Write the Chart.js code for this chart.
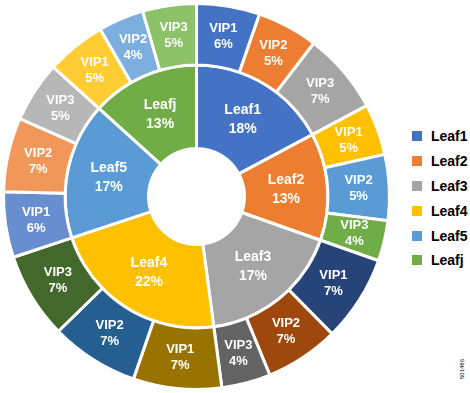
<!DOCTYPE html>
<html><head><meta charset="utf-8">
<script src="https://cdn.jsdelivr.net/npm/chart.js@4.4.1/dist/chart.umd.min.js"></script>
<style>
html,body{margin:0;padding:0;background:#fff;width:470px;height:393px;overflow:hidden;font-family:"Liberation Sans",Arial,sans-serif;}
#wrap{position:absolute;left:0;top:0;width:393px;height:393px;}
#legend{position:absolute;left:412px;top:124px;}
.item{display:flex;align-items:center;height:24.8px;font-weight:bold;font-size:14px;color:#000;}
.box{width:10px;height:10px;margin-right:9px;}
#code{position:absolute;left:462px;top:369px;font-size:6px;line-height:6px;color:#000;transform:translate(-50%,-50%) rotate(-90deg);white-space:nowrap;}
</style></head>
<body>
<div id="wrap"><canvas id="c" width="393" height="393"></canvas></div>
<div id="legend"></div>
<div id="code">501486</div>
<script>
// Inner ring: leaves
const leafNames  = ['Leaf1', 'Leaf2', 'Leaf3', 'Leaf4', 'Leaf5', 'Leafj'];
const leafShares = [17.2, 13.2, 17.5, 22.0, 16.8, 13.3];           // arc sizes
const leafLabels = ['18%', '13%', '17%', '22%', '17%', '13%'];       // printed labels

// Outer ring: VIPs (three per leaf, same order as leaves)
const vipNames  = ['VIP1','VIP2','VIP3', 'VIP1','VIP2','VIP3', 'VIP1','VIP2','VIP3',
                   'VIP1','VIP2','VIP3', 'VIP1','VIP2','VIP3', 'VIP1','VIP2','VIP3'];
const vipShares = [5.3, 5.1, 6.8,  4.3, 5.5, 3.4,  7.2, 6.2, 4.1,
                   7.4, 7.4, 7.2,  5.5, 6.2, 5.1,  5.0, 3.8, 4.5];
const vipLabels = ['6%','5%','7%', '5%','5%','4%', '7%','7%','4%',
                   '7%','7%','7%', '6%','7%','5%', '5%','4%','5%'];

// Styles
const leafColors = ['#4472C4', '#ED7D31', '#A5A5A5', '#FFC000', '#5B9BD5', '#70AD47'];
const vipColors  = ['#4472C4', '#ED7D31', '#A5A5A5',
                    '#FFC000', '#5B9BD5', '#70AD47',
                    '#264478', '#9E480E', '#636363',
                    '#997300', '#255E91', '#43682B',
                    '#698ED0', '#F1975A', '#B7B7B7',
                    '#FFCD33', '#7CAFDD', '#8CC168'];

const textSets = [
  {names: vipNames,  labels: vipLabels,  font: 'bold 13px "Liberation Sans", Arial, sans-serif', lh: 16},
  {names: leafNames, labels: leafLabels, font: 'bold 14px "Liberation Sans", Arial, sans-serif', lh: 19}
];

const sliceLabels = {
  id: 'sliceLabels',
  afterDatasetsDraw(chart) {
    const ctx = chart.ctx;
    ctx.save();
    ctx.fillStyle = '#fff';
    ctx.textAlign = 'center';
    ctx.textBaseline = 'middle';
    chart.data.datasets.forEach((ds, di) => {
      const meta = chart.getDatasetMeta(di);
      const set = textSets[di];
      ctx.font = set.font;
      meta.data.forEach((arc, i) => {
        const p = arc.getCenterPoint();
        ctx.fillText(set.names[i], p.x, p.y - set.lh / 2);
        ctx.fillText(set.labels[i], p.x, p.y + set.lh / 2);
      });
    });
    ctx.restore();
  }
};

new Chart(document.getElementById('c'), {
  type: 'doughnut',
  data: {
    labels: vipNames,
    datasets: [
      {data: vipShares,  backgroundColor: vipColors,  borderColor: '#fff', borderWidth: 3, weight: 62},
      {data: leafShares, backgroundColor: leafColors, borderColor: '#fff', borderWidth: 3, weight: 84}
    ]
  },
  options: {
    responsive: false,
    animation: false,
    cutout: 48,
    layout: {padding: 2},
    plugins: {legend: {display: false}, tooltip: {enabled: false}}
  },
  plugins: [sliceLabels]
});

// HTML legend
const legend = document.getElementById('legend');
leafNames.forEach((n, i) => {
  const row = document.createElement('div');
  row.className = 'item';
  const b = document.createElement('span');
  b.className = 'box';
  b.style.background = leafColors[i];
  const t = document.createElement('span');
  t.textContent = n;
  row.appendChild(b); row.appendChild(t);
  legend.appendChild(row);
});
</script>
</body></html>
